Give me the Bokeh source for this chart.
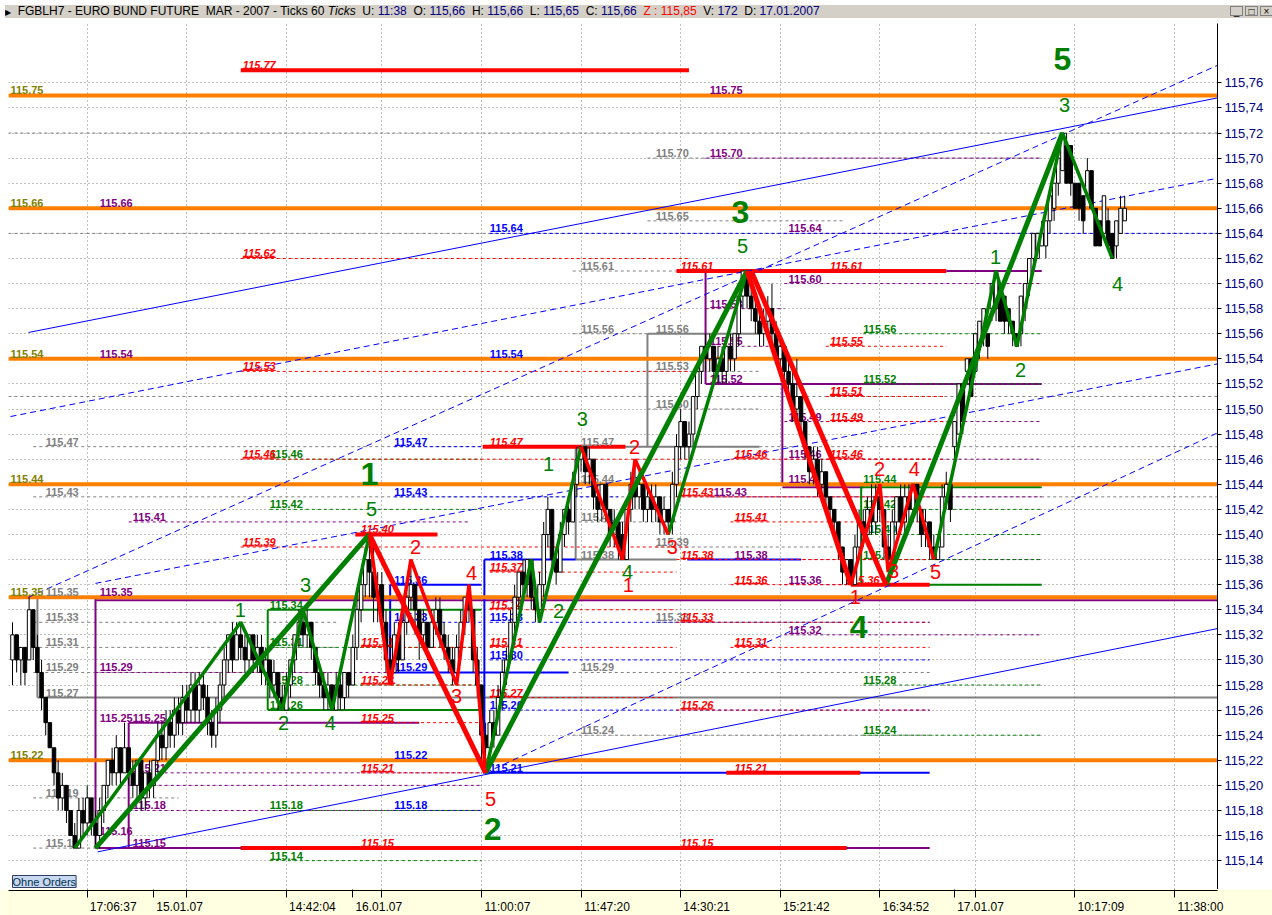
from bokeh.plotting import figure
from bokeh.models import Range1d, FixedTicker, Label, Div, CustomJSTickFormatter
from bokeh.layouts import column
from bokeh.embed import file_html
from bokeh.resources import INLINE
from bokeh.core.properties import value

FONT = "Liberation Sans"

# ---------------- candle data (hundredths above 115.00), one entry per 60-tick bar
opens = [30,32,30,31,30,34,31,29,27,25,23,21,19,20,18,16,
         15,18,17,19,17,16,18,20,22,21,23,21,23,
         21,20,22,19,21,20,22,24,23,25,24,26,
         25,27,26,28,26,28,27,25,24,26,28,
         30,32,30,32,31,30,32,30,31,29,30,28,29,27,
         26,28,30,32,33,32,33,31,29,28,27,28,
         26,28,27,29,28,31,34,36,38,
         37,35,36,33,30,
         29,32,30,33,35,
         36,34,32,33,31,33,34,32,31,30,29,
         31,33,35,34,30,28,24,
         23,25,24,27,29,30,33,35,37,36,38,35,34,
         36,40,42,38,37,40,42,41,44,46,47,
         45,46,43,42,44,42,40,41,40,
         38,42,44,43,44,42,43,42,43,41,42,
         41,44,47,49,47,48,51,53,55,54,55,53,54,53,55,54,56,59,61,
         59,58,57,56,57,58,56,54,55,53,52,50,51,49,47,45,46,44,45,43,42,41,39,37,38,
         36,39,41,40,42,41,43,42,39,38,41,43,41,43,42,44,42,40,41,39,38,39,43,44,
         47,48,52,53,54,53,55,56,56,58,58,60,59,58,57,56,56,58,60,62,62,63,63,65,66,68,69,71,71,68,68,67,67,69,66,65,64,65,64,63,64,65]
closes = [32,30,31,29,34,31,29,27,25,23,21,19,20,18,16,15,
          18,17,19,17,16,18,20,22,21,23,21,23,21,
          20,22,19,21,20,22,24,23,25,24,26,25,
          27,26,28,26,28,27,25,24,26,28,30,
          32,30,32,31,30,32,30,31,29,30,28,29,27,26,
          28,30,32,33,32,33,31,29,28,27,28,26,
          28,27,29,28,31,34,36,38,37,
          35,36,33,30,29,
          32,30,33,35,36,
          34,32,33,31,33,34,32,31,30,29,31,
          33,35,34,30,28,24,23,
          25,24,27,29,30,33,35,37,36,38,35,34,36,
          40,42,38,37,40,42,41,44,46,47,45,
          46,43,42,44,42,40,41,39,38,
          42,44,43,44,42,43,42,43,41,42,41,
          44,47,49,47,48,51,53,55,54,55,53,54,53,55,54,56,59,61,59,
          58,57,56,57,58,56,54,55,53,52,50,51,49,47,45,46,44,45,43,42,41,39,37,38,36,
          39,41,40,42,41,43,42,39,38,41,43,41,43,42,44,42,40,41,39,38,39,43,44,42,
          49,52,49,54,51,56,57,58,55,60,61,57,57,57,56,55,59,60,62,64,64,64,65,67,68,70,72,68,68,66,66,65,69,66,63,63,67,63,62,65,66,66]
highs = [33,32,31,31,35,34,32,30,27,25,23,22,21,20,18,17,
         19,19,20,19,18,19,20,22,23,24,23,25,23,
         22,22,22,21,22,22,25,25,26,26,27,27,
         28,28,29,29,29,29,28,26,27,29,31,
         32,33,33,33,32,32,32,32,32,31,30,30,29,28,
         29,30,32,34,34,34,33,31,29,29,29,28,
         29,29,29,29,32,35,37,39,40,
         39,37,37,34,32,
         33,33,35,36,38,
         36,34,34,33,34,35,35,33,32,31,32,
         34,35,36,34,31,28,25,
         26,26,28,30,31,34,36,37,38,38,38,36,37,
         41,43,42,39,41,42,43,45,47,47,47,
         47,46,44,44,44,42,42,41,41,
         42,45,46,45,44,44,44,44,43,43,42,
         45,48,50,49,49,51,53,55,56,56,55,55,55,55,56,56,59,61,61,
         60,59,58,58,59,60,57,56,55,54,53,54,51,49,47,47,47,46,45,43,42,41,39,38,38,
         40,42,42,43,44,44,44,42,40,42,43,44,44,44,44,44,42,42,41,40,40,44,45,44,
         49,52,52,54,54,56,57,58,56,60,61,60,59,58,57,56,59,60,62,64,64,65,65,67,68,70,72,72,71,68,68,67,70,69,66,65,67,66,64,65,67,67]
lows = [28,29,28,28,30,30,29,26,24,23,20,18,18,17,16,15,
        15,16,16,16,15,15,17,19,20,20,20,21,20,
        19,19,18,18,19,19,21,22,22,23,23,24,
        24,25,25,25,25,26,24,23,23,25,27,
        29,29,30,30,29,29,29,29,28,28,27,27,26,26,
        26,27,29,31,31,31,30,28,27,26,26,26,
        26,26,26,27,28,30,33,35,35,
        33,33,32,29,28,
        29,29,30,32,34,
        32,30,31,30,31,32,31,30,29,28,28,
        30,32,33,29,27,22,21,
        22,23,24,26,28,30,32,34,35,35,34,33,33,
        35,39,37,36,37,39,40,41,43,45,44,
        44,42,41,41,41,39,39,38,38,
        38,41,42,42,41,41,41,41,40,40,40,
        40,43,46,46,46,47,50,52,53,53,52,52,52,52,53,53,55,58,58,
        57,56,55,55,56,55,54,53,52,51,49,49,48,46,44,44,43,43,42,41,40,38,36,36,36,
        36,38,39,39,40,40,41,38,37,38,40,40,40,41,41,41,39,39,38,38,38,39,42,41,
        46,48,48,52,51,53,54,55,54,57,57,57,56,56,55,55,55,57,59,61,62,63,62,64,65,67,69,68,67,66,65,64,67,66,63,63,64,63,62,62,64,65]

# ---------------- axes
price_ticks = [115.14, 115.16, 115.18, 115.20, 115.22, 115.24, 115.26, 115.28, 115.30, 115.32,
               115.34, 115.36, 115.38, 115.40, 115.42, 115.44, 115.46, 115.48, 115.50, 115.52,
               115.54, 115.56, 115.58, 115.60, 115.62, 115.64, 115.66, 115.68, 115.70, 115.72,
               115.74, 115.76]
price_tick_labels = [f"{t:.2f}".replace(".", ",") for t in price_ticks]
time_ticks = [18, 42, 66, 89, 113, 137, 161, 185, 209, 232, 256, 280]
time_labels = ["17:06:37", "", "14:42:04", "", "11:00:07", "11:47:20", "14:30:21",
               "15:21:42", "16:34:52", "", "10:17:09", "11:38:00"]
date_ticks = [34, 82, 227]
date_labels = ["15.01.07", "16.01.07", "17.01.07"]

# ---------------- horizontal levels: (price, from bar, to bar, label bar, style)
orange_levels = [115.75, 115.66, 115.54, 115.44, 115.35, 115.22]
gray_levels = [
    (115.72, -1, 291, None, 'd'), (115.64, -1, 291, None, 'd'), (115.51, -1, 291, None, 'd'),
    (115.47, 5, 291, 8, 'd'), (115.43, 5, 291, 8, 'd'), (115.35, 5, 5, 8, 'd'),
    (115.33, 5, 78, 8, 'd'), (115.31, 5, 78, 8, 'd'), (115.29, 5, 78, 8, 'd'),
    (115.27, 6, 291, 8, 's'), (115.19, 5, 40, 8, 'd'), (115.15, 5, 22, 8, 'd'),
    (115.61, 135, 175, 137, 'd'), (115.56, 135, 153, 137, 'd'), (115.47, 135.7, 180, 137, 's'),
    (115.44, 135, 160, 137, 'd'), (115.41, 135, 160, 137, 'd'), (115.38, 135.7, 160, 137, 's'),
    (115.29, 135, 221, 137, 'd'), (115.24, 135, 221, 137, 'd'),
    (115.70, 153, 248, 155, 'd'), (115.65, 153, 200, 155, 'd'), (115.56, 153, 180, 155, 's'),
    (115.53, 153, 180, 155, 'd'), (115.50, 153, 180, 155, 'd'),
    (115.39, 155, 200, 155, 'd'), (115.33, 155, 200, 155, 'd'),
]
gray_boxes = [(6, 115.27, 115.35), (135.7, 115.38, 115.47), (153, 115.47, 115.56)]
purple_levels = [
    (115.66, 20, 291, 21, 'd'), (115.54, 20, 291, 21, 'd'), (115.41, 28, 110, 29, 'd'),
    (115.35, 20, 291, 21, 's'), (115.29, 20, 113, 21, 'd'), (115.25, 28, 98, 21, 's'),
    (115.25, 28, 28, 29, 'd'), (115.21, 28, 113, 29, 'd'), (115.20, 28, 113, None, 'd'),
    (115.18, 28, 113, 29, 'd'), (115.16, 20, 20, 21, 'd'), (115.15, 20, 221, 29, 's'),
    (115.75, 168, 291, 168, 'd'), (115.70, 167, 248, 168, 'd'), (115.64, 186, 248, 187, 'd'),
    (115.60, 186, 248, 187, 'd'), (115.58, 167, 186, 168, 'd'), (115.55, 167, 186, 168, 'd'),
    (115.52, 167, 248, 168, 's'), (115.61, 225, 248, None, 's'), (115.49, 186, 248, 187, 'd'),
    (115.46, 186, 248, 187, 'd'), (115.44, 185.5, 205, 187, 's'), (115.43, 168, 248, 169, 'd'),
    (115.38, 173, 248, 174, 'd'), (115.36, 186, 248, 187, 'd'), (115.32, 186, 248, 187, 'd'),
]
purple_boxes = [(20, 115.15, 115.35), (28, 115.15, 115.25), (167, 115.52, 115.61), (185.5, 115.44, 115.52)]
red_levels = [
    (115.77, 55, 163, 55.5, 'T'), (115.62, 55, 163, 55.5, 'd'), (115.53, 55, 163, 55.5, 'd'),
    (115.46, 55, 163, 55.5, 'd'), (115.39, 55, 163, 55.5, 'd'),
    (115.40, 82.6, 102.4, 84, 'T'), (115.31, 84, 113, 84, 'd'), (115.28, 84, 113, 84, 'd'),
    (115.25, 84, 113, 84, 'd'), (115.21, 84, 113, 84, 'd'), (115.15, 55, 201, 84, 'T'),
    (115.15, 161, 161, 161, 'd'),
    (115.47, 113.3, 147.7, 115, 'T'), (115.37, 115, 160, 115, 'd'), (115.34, 115, 160, 115, 'd'),
    (115.31, 115, 160, 115, 'd'), (115.27, 115, 160, 115, 'd'),
    (115.61, 160, 225, 161, 'T'), (115.61, 197, 197, 197, 'd'),
    (115.46, 173, 221, 174, 'd'), (115.43, 160, 221, 161, 'd'), (115.41, 173, 221, 174, 'd'),
    (115.38, 160, 221, 161, 'd'), (115.36, 173, 221, 174, 'd'), (115.33, 160, 221, 161, 'd'),
    (115.31, 173, 221, 174, 'd'), (115.26, 160, 221, 161, 'd'), (115.21, 172, 204.3, 174, 'T'),
    (115.55, 196, 225, 197, 'd'), (115.51, 196, 225, 197, 'd'), (115.49, 196, 225, 197, 'd'),
    (115.46, 196, 225, 197, 'd'), (115.36, 202, 221, 201, 'T'),
]
blue_levels = [
    (115.47, 92, 113, 92, 'd'), (115.43, 92, 146, 92, 'd'), (115.36, 91, 113, 92, 's'),
    (115.33, 92, 113, 92, 'd'), (115.29, 91, 134, 92, 's'), (115.22, 92, 113, 92, 'd'),
    (115.18, 92, 113, 92, 'd'),
    (115.64, 115, 291, 115, 'd'), (115.54, 115, 291, 115, 'd'), (115.38, 113.7, 135.7, 115, 's'),
    (115.38, 162.6, 190, None, 's'), (115.33, 115, 221, 115, 'd'), (115.30, 115, 221, 115, 'd'),
    (115.26, 115, 221, 115, 'd'), (115.21, 113.7, 221, 115, 's'),
]
blue_boxes = [(91, 115.29, 115.36), (113.7, 115.21, 115.38)]
green_levels = [
    (115.46, 62, 113, 62, 'd'), (115.42, 62, 113, 62, 'd'), (115.34, 61.5, 113, 62, 's'),
    (115.31, 62, 113, 62, 'd'), (115.28, 62, 113, 62, 'd'), (115.26, 61.5, 113, 62, 's'),
    (115.18, 62, 113, 62, 'd'), (115.14, 62, 113, 62, 'd'),
    (115.56, 205, 248, 205, 'd'), (115.52, 205, 248, 205, 'd'), (115.44, 204.5, 248, 205, 's'),
    (115.42, 205, 248, 205, 'd'), (115.40, 205, 248, 205, 'd'), (115.38, 205, 248, 205, 'd'),
    (115.36, 204.5, 248, None, 's'), (115.28, 205, 248, 205, 'd'), (115.24, 205, 248, 205, 'd'),
]
green_boxes = [(61.5, 115.26, 115.34), (204.5, 115.36, 115.44)]

# ---------------- trend lines (bar, price) -> (bar, price)
trend_x0 = [3.86, -0.48, 3.86, 20.5, 114, 20]
trend_y0 = [115.561, 115.494, 115.350, 115.147, 115.210, 115.361]
trend_x1 = [290.4, 290.4, 290.4, 290.4, 290.4, 290.4]
trend_y1 = [115.748, 115.684, 115.774, 115.325, 115.481, 115.536]
trend_solid = [True, False, False, True, False, False]

# ---------------- Elliott waves
green_main_x = [[20, 86], [114, 177], [210.5, 253]]
green_main_y = [[115.15, 115.40], [115.21, 115.61], [115.36, 115.72]]
red_main_x = [[86, 114], [177, 202], [178, 210.5]]
red_main_y = [[115.40, 115.21], [115.61, 115.36], [115.61, 115.36]]
green_sub_x = [[15, 55, 65, 70, 77, 86], [114, 125, 127, 137], [158, 177], [222, 237, 242, 253, 265]]
green_sub_y = [[115.15, 115.33, 115.26, 115.34, 115.26, 115.40], [115.21, 115.38, 115.33, 115.47],
               [115.40, 115.61], [115.38, 115.61, 115.55, 115.72, 115.62]]
red_sub_x = [[86, 91, 96, 107, 110, 114], [137, 147, 150, 158], [202, 209, 211, 217, 222]]
red_sub_y = [[115.40, 115.28, 115.38, 115.28, 115.36, 115.21], [115.47, 115.38, 115.46, 115.40],
             [115.36, 115.44, 115.37, 115.44, 115.38]]

gs_x = [54.9, 65.3, 70.6, 76.6, 86.5, 129.2, 131.6, 137.3, 148.2, 175.9, 236.9, 242.9, 253.5, 266.3]
gs_y = [115.340, 115.250, 115.360, 115.250, 115.420, 115.456, 115.339, 115.492, 115.370, 115.630,
        115.621, 115.531, 115.742, 115.600]
gs_t = ["1", "2", "3", "4", "5", "1", "2", "3", "4", "5", "1", "2", "3", "4"]
gb_x = [86.0, 115.7, 175.4, 203.9, 253.0]
gb_y = [115.448, 115.165, 115.657, 115.326, 115.779]
gb_t = ["1", "2", "3", "4", "5"]
rs_x = [91.1, 97.1, 107.0, 110.6, 115.2, 148.4, 149.9, 159.0, 203.1, 208.9, 212.3, 217.3, 222.4]
rs_y = [115.286, 115.390, 115.271, 115.369, 115.189, 115.360, 115.470, 115.390, 115.350, 115.452,
        115.371, 115.452, 115.370]
rs_t = ["1", "2", "3", "4", "5", "1", "2", "3", "1", "2", "3", "4", "5"]

current_price = 115.66

# ---------------- figure
PX = 1 / 1254.5          # price per screen pixel (for small drawing offsets)
BX = 1 / 4.15            # bars per screen pixel
X_RANGE = Range1d(-0.964, 290.36)
p = figure(frame_width=1209, frame_height=866, x_range=X_RANGE,
           y_range=Range1d(115.1170, 115.8073), y_axis_location="right", x_axis_location=None,
           toolbar_location=None, output_backend="svg", min_border_left=8, min_border_top=0,
           min_border_bottom=0, min_border_right=55, outline_line_color=None,
           background_fill_color="white", border_fill_color="white")

fmt_code = """
let best = 0;
for (let i = 0; i < t.length; i++) { if (Math.abs(t[i] - tick) < Math.abs(t[best] - tick)) best = i; }
return l[best];
"""
p.yaxis.ticker = FixedTicker(ticks=price_ticks, minor_ticks=[])
p.yaxis.formatter = CustomJSTickFormatter(args=dict(t=price_ticks, l=price_tick_labels), code=fmt_code)
p.yaxis.major_label_text_color = "#000080"
p.yaxis.major_label_text_font = FONT
p.yaxis.major_label_text_font_size = "13px"
p.yaxis.axis_line_color = "black"
p.yaxis.major_tick_line_color = "black"
p.yaxis.major_tick_out = 4
p.yaxis.major_tick_in = 0
p.yaxis.major_label_standoff = 3

p.xgrid.ticker = FixedTicker(ticks=time_ticks)
p.ygrid.ticker = FixedTicker(ticks=price_ticks)
for g in (p.xgrid, p.ygrid):
    g.grid_line_color = "#808080"
    g.grid_line_dash = "1 3"
    g.grid_line_width = 1


def draw_levels(levels, boxes, color, shift=0.0):
    styles = {'d': (1, "3 3"), 's': (2, "solid"), 'T': (4, "solid")}
    for key, (w, dash) in styles.items():
        sel = [lv for lv in levels if lv[4] == key and lv[2] > lv[1]]
        if sel:
            ys = [lv[0] - (shift if key == 's' and lv[0] in orange_levels else 0) for lv in sel]
            p.segment(x0=[lv[1] for lv in sel], y0=ys, x1=[lv[2] for lv in sel], y1=ys,
                      line_color=color, line_width=w, line_dash=dash)
    if boxes:
        p.segment(x0=[b[0] for b in boxes], y0=[b[1] for b in boxes],
                  x1=[b[0] for b in boxes], y1=[b[2] for b in boxes],
                  line_color=color, line_width=2)


def draw_labels(levels, color, style):
    sel = [lv for lv in levels if lv[3] is not None]
    p.text(x=[lv[3] for lv in sel], y=[lv[0] for lv in sel],
           text=[f"{lv[0]:.2f}" for lv in sel], text_color=color, text_font=value(FONT),
           text_font_size="11px", text_font_style=style, text_baseline="bottom",
           text_align="left", y_offset=-1)


groups = [(gray_levels, gray_boxes, "#808080", "bold"),
          (purple_levels, purple_boxes, "#800080", "bold"),
          (blue_levels, blue_boxes, "#0000ff", "bold"),
          (green_levels, green_boxes, "#008000", "bold"),
          (red_levels, None, "#ff0000", "bold italic")]
for lv, bx, col, _ in groups:
    draw_levels(lv, bx, col, shift=3 * PX)

# orange levels on top of the thin levels
p.segment(x0=[-1] * len(orange_levels), y0=orange_levels, x1=[291] * len(orange_levels),
          y1=orange_levels, line_color="#ff8000", line_width=4)

# trend lines
for sol in (True, False):
    idx = [i for i in range(len(trend_x0)) if trend_solid[i] == sol]
    p.segment(x0=[trend_x0[i] for i in idx], y0=[trend_y0[i] for i in idx],
              x1=[trend_x1[i] for i in idx], y1=[trend_y1[i] for i in idx],
              line_color="#0000ff", line_width=1, line_dash="solid" if sol else "6 4")

for lv, bx, col, st in groups:
    draw_labels(lv, col, st)
# underline of the red labels
red_lab = [lv for lv in red_levels if lv[3] is not None]
p.segment(x0=[lv[3] for lv in red_lab], y0=[lv[0] + PX for lv in red_lab],
          x1=[lv[3] + 33 * BX for lv in red_lab], y1=[lv[0] + PX for lv in red_lab],
          line_color="#ff0000", line_width=1)
p.text(x=[-0.5] * len(orange_levels), y=orange_levels, text=[f"{v:.2f}" for v in orange_levels],
       text_color="#808000", text_font=value(FONT), text_font_size="11px",
       text_font_style="bold", text_baseline="bottom", text_align="left", y_offset=-1)

# candles
xs = list(range(len(opens)))
O = [115 + v / 100 for v in opens]
C = [115 + v / 100 for v in closes]
H = [115 + v / 100 for v in highs]
L = [115 + v / 100 for v in lows]
p.segment(x0=xs, y0=H, x1=xs, y1=L, line_color="black", line_width=1)
up = [i for i in xs if C[i] >= O[i]]
dn = [i for i in xs if C[i] < O[i]]
p.vbar(x=up, width=0.85, top=[C[i] for i in up], bottom=[O[i] for i in up],
       fill_color="white", line_color="black", line_width=1)
p.vbar(x=dn, width=0.85, top=[O[i] for i in dn], bottom=[C[i] for i in dn],
       fill_color="black", line_color="black", line_width=1)

# waves
p.multi_line(xs=green_sub_x, ys=green_sub_y, line_color="#008000", line_width=3.5)
p.multi_line(xs=red_sub_x, ys=red_sub_y, line_color="#ff0000", line_width=3.5)
p.multi_line(xs=green_main_x, ys=green_main_y, line_color="#008000", line_width=5)
p.multi_line(xs=red_main_x, ys=red_main_y, line_color="#ff0000", line_width=5)

p.text(x=gs_x, y=gs_y, text=gs_t, text_color="#008000", text_font=value(FONT),
       text_font_size="20px", text_align="center", text_baseline="middle")
p.text(x=rs_x, y=rs_y, text=rs_t, text_color="#ff0000", text_font=value(FONT),
       text_font_size="20px", text_align="center", text_baseline="middle")
p.text(x=gb_x, y=gb_y, text=gb_t, text_color="#008000", text_font=value(FONT),
       text_font_size="32px", text_font_style="bold", text_align="center", text_baseline="middle")

# last-price marker on the price axis and button
p.add_layout(Label(x=1209 + 7, y=current_price, x_units="screen", y_units="data",
                   text=f"{current_price:.2f}".replace(".", ","), text_font=FONT,
                   text_font_size="13px", text_color="black", text_baseline="middle",
                   background_fill_color="#ffff80", border_line_color="black"))
p.add_layout(Label(x=1209 + 1, y=current_price, x_units="screen", y_units="data", text="←",
                   text_font="DejaVu Sans", text_font_size="8px", text_color="black",
                   text_baseline="middle"))
p.add_layout(Label(x=4, y=2, x_units="screen", y_units="screen", text="Ohne Orders",
                   text_font=FONT, text_font_size="11px", text_color="#003050",
                   background_fill_color="#c8d8f0", border_line_color="#304060"))

# ---------------- time axis strip: tick marks as minor ticks at the real times,
# labels placed just right of each tick (major ticks carry the labels only)
ax = figure(frame_width=1209, frame_height=1, x_range=X_RANGE, y_range=Range1d(0, 1),
            y_axis_location=None, toolbar_location=None, output_backend="svg",
            min_border_left=8, min_border_top=0, min_border_bottom=0, min_border_right=55,
            outline_line_color=None, background_fill_color="#ffffe1", border_fill_color="#ffffe1")
ax.xgrid.visible = False
ax.ygrid.visible = False
lab_pos, lab_txt = [], []
for t, s in zip(time_ticks + date_ticks, time_labels + date_labels):
    if s:
        lab_pos.append(t + 26 * BX)
        lab_txt.append(s)
ax.xaxis.ticker = FixedTicker(ticks=lab_pos, minor_ticks=time_ticks + date_ticks)
ax.xaxis.formatter = CustomJSTickFormatter(args=dict(t=lab_pos, l=lab_txt), code=fmt_code)
ax.xaxis.major_label_text_font = FONT
ax.xaxis.major_label_text_font_size = "12px"
ax.xaxis.major_label_text_color = "black"
ax.xaxis.major_label_standoff = 2
ax.xaxis.axis_line_color = "black"
ax.xaxis.major_tick_out = 0
ax.xaxis.major_tick_in = 0
ax.xaxis.minor_tick_out = 7
ax.xaxis.minor_tick_in = 1
ax.xaxis.minor_tick_line_color = "black"

# ---------------- title bar
vals = [("U:", "11:38", "#000080"), ("O:", "115,66", "#000080"), ("H:", "115,66", "#000080"),
        ("L:", "115,65", "#000080"), ("C:", "115,66", "#000080"), ("Z :", "115,85", "#ff0000"),
        ("V:", "172", "#000080"), ("D:", "17.01.2007", "#000080")]
parts = []
for k, v, c in vals:
    kc = "#ff0000" if c == "#ff0000" else "#000000"
    parts.append(f"<span style='color:{kc}'>{k}</span> <span style='color:{c}'>{v}</span>")
btn = ("<span style='display:inline-block;width:13px;height:10px;border:1px solid #808080;"
       "background:#d4d0c8;text-align:center;line-height:9px;font-size:10px;margin-left:2px'>{}</span>")
title_html = ("<div style='position:relative;width:1272px;height:13px;line-height:13px'>"
              "<span style='font-size:8px'>&#9654;</span>&nbsp; FGBLH7 - EURO BUND FUTURE&nbsp;&nbsp;"
              "MAR - 2007 - Ticks 60 <i>Ticks</i>&nbsp; " + "&nbsp; ".join(parts) +
              "<span style='position:absolute;right:4px;top:0px'>" +
              btn.format("_") + btn.format("&#9633;") + btn.format("&#215;") + "</span></div>")
div = Div(text=title_html, width=1272, height=13,
          styles={"background-color": "#d4d0c8", "font-family": FONT, "font-size": "12px",
                  "line-height": "13px", "white-space": "nowrap", "overflow": "hidden",
                  "color": "black"})

layout = column(div, p, ax)
open("out.html", "w").write(file_html(layout, INLINE))
